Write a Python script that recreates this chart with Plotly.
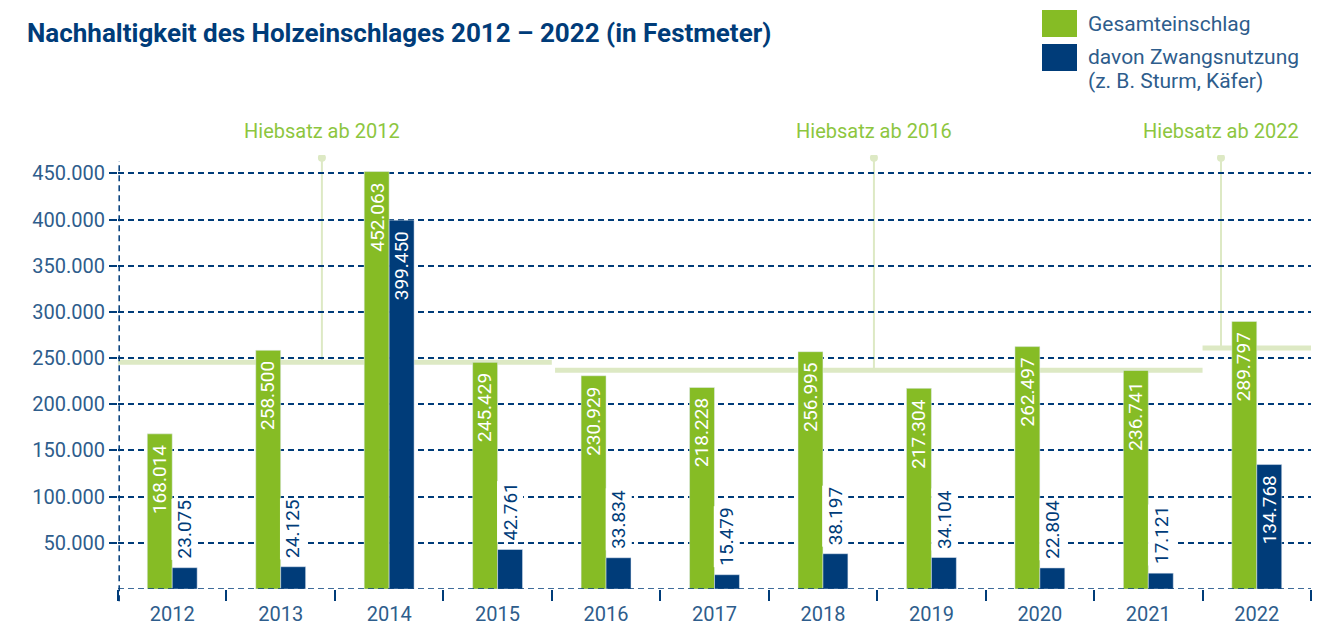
import plotly.graph_objects as go

jahre = ['2012', '2013', '2014', '2015', '2016', '2017', '2018', '2019', '2020', '2021', '2022']
gesamt = [168014, 258500, 452063, 245429, 230929, 218228, 256995, 217304, 262497, 236741, 289797]
zwang = [23075, 24125, 399450, 42761, 33834, 15479, 38197, 34104, 22804, 17121, 134768]

hiebsatz_namen = ['Hiebsatz ab 2012', 'Hiebsatz ab 2016', 'Hiebsatz ab 2022']
hiebsatz_werte = [245500, 237000, 261000]
hiebsatz_von = [-0.5, 3.53, 9.5]
hiebsatz_bis = [3.5, 9.5, 10.5]
hiebsatz_pin = [1.38, 6.47, 9.67]

ytick_werte = [50000, 100000, 150000, 200000, 250000, 300000, 350000, 400000, 450000]

GRUEN = '#86bc25'
NAVY = '#003c79'
TXT = '#2e5d8c'
HELL = '#dde9c4'
HGRUEN = '#8dc63f'
FONT = 'Roboto'

# die Seite hat 8px Rand, daher alles um 8px verschoben
OFF = 8
W, H = 1327, 620
L, R, T, B = 110, 24, 147, 39


def de(v):
    return f'{v:,}'.replace(',', '.')


def px(x):
    return (x - OFF - L) / (W - L - R)


def py(y):
    return (H - B - (y - OFF)) / (H - T - B)


fig = go.Figure()
fig.add_trace(go.Bar(x=jahre, y=gesamt, name='Gesamteinschlag', marker_color=GRUEN, cliponaxis=False))
fig.add_trace(go.Bar(x=jahre, y=zwang, name='davon Zwangsnutzung', marker_color=NAVY, cliponaxis=False))

shapes = []
# Nulllinie und y-Achse gestrichelt
shapes.append(dict(type='line', xref='paper', yref='y', x0=0, x1=1, y0=0, y1=0,
                   line=dict(color=NAVY, width=1.5, dash='6px,4px'), layer='above'))
shapes.append(dict(type='line', xref='paper', yref='paper', x0=0.001, x1=0.001, y0=-0.028, y1=0.986,
                   line=dict(color=NAVY, width=1.5, dash='6px,4px')))

annotations = []
# Balkenbeschriftungen (x als Kategorie-Index)
for i, v in enumerate(gesamt):
    annotations.append(dict(x=i, y=v, xref='x', yref='y', text=de(v), showarrow=False,
                            textangle=-90, xshift=-12.5, yshift=-9, xanchor='center', yanchor='top',
                            font=dict(color='white', size=19, family=FONT)))
for i, v in enumerate(zwang):
    if v > 100000:
        annotations.append(dict(x=i, y=v, xref='x', yref='y', text=de(v), showarrow=False,
                                textangle=-90, xshift=12.5, yshift=-9, xanchor='center', yanchor='top',
                                font=dict(color='white', size=19, family=FONT)))
    else:
        annotations.append(dict(x=i, y=v, xref='x', yref='y', text=de(v), showarrow=False,
                                textangle=-90, xshift=12.5, yshift=7, xanchor='center', yanchor='bottom',
                                bgcolor='white', borderpad=1,
                                font=dict(color=NAVY, size=19, family=FONT)))

for name, wert, x0, x1, xp in zip(hiebsatz_namen, hiebsatz_werte, hiebsatz_von, hiebsatz_bis, hiebsatz_pin):
    shapes.append(dict(type='line', xref='x', yref='y', x0=x0, x1=x1, y0=wert, y1=wert,
                       line=dict(color=HELL, width=5), layer='below'))
    shapes.append(dict(type='line', xref='x', yref='y', x0=xp, x1=xp, y0=wert, y1=467000,
                       line=dict(color=HELL, width=2), layer='below'))
    shapes.append(dict(type='circle', xref='x', yref='y', xsizemode='pixel', ysizemode='pixel',
                       xanchor=xp, yanchor=467000, x0=-4, x1=4, y0=-4, y1=4,
                       fillcolor=HELL, line=dict(width=0), layer='below'))
    annotations.append(dict(x=xp, xref='x', y=py(131), yref='paper', text=name, showarrow=False,
                            font=dict(color=HGRUEN, size=20, family=FONT), xanchor='center', yanchor='middle'))

# Legende
for farbe, y0, y1 in [(GRUEN, 10, 37), (NAVY, 44, 71)]:
    shapes.append(dict(type='rect', xref='paper', yref='paper', x0=px(1042), x1=px(1077),
                       y0=py(y1), y1=py(y0), fillcolor=farbe, line=dict(width=0)))
for txt, y in [('Gesamteinschlag', 24), ('davon Zwangsnutzung', 57), ('(z. B. Sturm, Käfer)', 81)]:
    annotations.append(dict(x=px(1086), y=py(y), xref='paper', yref='paper', text=txt, showarrow=False,
                            xanchor='left', yanchor='middle', font=dict(color=TXT, size=21, family=FONT)))

fig.update_layout(
    width=W, height=H, margin=dict(l=L, r=R, t=T, b=B, autoexpand=False),
    paper_bgcolor='white', plot_bgcolor='white',
    separators=',.', showlegend=False,
    barmode='group', bargap=0.54, bargroupgap=0,
    title=dict(text='<b>Nachhaltigkeit des Holzeinschlages 2012 – 2022 (in Festmeter)</b>',
               x=(27 - OFF) / W, xanchor='left', y=1 - (33 - OFF) / H, yanchor='middle',
               font=dict(color=NAVY, size=26, family=FONT)),
    shapes=shapes, annotations=annotations,
    font=dict(family=FONT, color=TXT),
)
fig.update_xaxes(type='category', range=[-0.5, 10.5], showgrid=False, zeroline=False, showline=False,
                 automargin=False,
                 ticks='outside', tickson='boundaries', ticklen=11, tickwidth=1.5, tickcolor=NAVY,
                 ticklabelstandoff=11,
                 tickfont=dict(size=20, color=TXT, family=FONT))
fig.update_yaxes(range=[0, 470000], tickvals=ytick_werte, tickformat=',d', automargin=False,
                 showgrid=True, gridcolor=NAVY, gridwidth=1.5, griddash='6px,4px',
                 zeroline=False, showline=False,
                 ticks='outside', ticklen=8, tickwidth=2, tickcolor=NAVY,
                 tickfont=dict(size=20, color=TXT, family=FONT))

fig.write_html('out.html')
